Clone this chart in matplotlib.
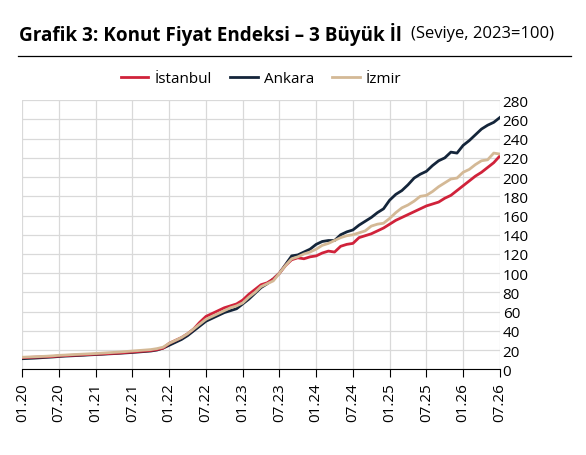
import matplotlib
matplotlib.use("Agg")
import matplotlib.pyplot as plt
import numpy as np

plt.rcParams['font.family'] = ['Open Sans', 'DejaVu Sans']

istanbul = [12,12.3,12.6,12.8,13,13.3,13.8,14.2,14.5,14.8,15.1,15.4,
            15.7,16,16.3,16.6,17,17.5,18,18.5,19,19.5,20.5,22,
            27,30,33,37,42,49,55,58,61,64,66,68,
            72,78,83,88,90,94,100,108,114,116,115,117,
            118,121,123,122,128,130,131,137,139,141,144,147,
            151,155,158,161,164,167,170,172,174,178,181,186,
            191,196,201,205,210,215,222]
ankara = [11,11.3,11.6,12,12.4,12.8,13.3,13.7,14,14.3,14.6,15,
          15.3,15.6,16,16.3,16.7,17.1,17.5,18,18.5,19,20,22,
          25,28,31,35,40,45,50,53,56,59,61,63,
          68,73,79,85,89,94,100,109,118,119,122,125,
          130,133,134,134,140,143,145,150,154,158,163,167,
          176,182,186,192,199,203,206,212,217,220,226,225,
          233,238,244,250,254,257,262]
izmir = [12.5,12.8,13,13.3,13.6,14,14.5,14.8,15.2,15.5,15.8,16.1,
         16.4,16.8,17.2,17.6,18,18.5,19,19.5,20,20.5,21.5,23,
         27,30,33,37,42,47,52,55,58,61,64,66,
         69,75,80,86,89,92,100,108,115,117,120,122,
         125,129,131,134,137,139,140,142,144,149,151,152,
         157,163,168,171,175,180,181,185,190,194,198,199,
         205,208,213,217,218,225,224]
tick_labels = ["01.20","07.20","01.21","07.21","01.22","07.22","01.23",
               "07.23","01.24","07.24","01.25","07.25","01.26","07.26"]

fig = plt.figure(figsize=(5.86, 4.56), dpi=100)
ax = fig.add_axes([0.038, 0.188, 0.815, 0.59])
x = np.arange(len(istanbul))
ax.plot(x, istanbul, color='#d0223a', lw=2, label='İstanbul', zorder=3)
ax.plot(x, ankara, color='#14253a', lw=2, label='Ankara', zorder=2)
ax.plot(x, izmir, color='#d4b996', lw=2, label='İzmir', zorder=4)
ax.legend(loc='lower center', bbox_to_anchor=(0.5, 1.0), ncol=3, frameon=False,
          fontsize=11, handlelength=1.8, columnspacing=1.2, handletextpad=0.4)
ax.set_xlim(0, 78)
ax.set_ylim(0, 280)
ax.set_yticks(range(0, 281, 20))
ax.set_xticks(range(0, 79, 6))
ax.set_xticklabels(tick_labels, rotation=90, fontsize=11)
ax.yaxis.tick_right()
ax.tick_params(axis='y', length=0, labelsize=11, pad=2)
ax.tick_params(axis='x', length=6, color='black', pad=3)
ax.grid(True, color='#d9d9d9', lw=0.9)
for s in ['top', 'right', 'left']:
    ax.spines[s].set_visible(False)
ax.spines['bottom'].set_color('black')

fig.text(0.032, 0.925, "Grafik 3: Konut Fiyat Endeksi – 3 Büyük İl", fontsize=13.6,
         fontweight='bold', va='center')
fig.text(0.701, 0.925, "(Seviye, 2023=100)", fontsize=12, va='center')
fig.add_artist(plt.Line2D([0.03, 0.975], [0.875, 0.875], color='black', lw=0.9,
                          transform=fig.transFigure))
fig.savefig("out.png", dpi=100)
